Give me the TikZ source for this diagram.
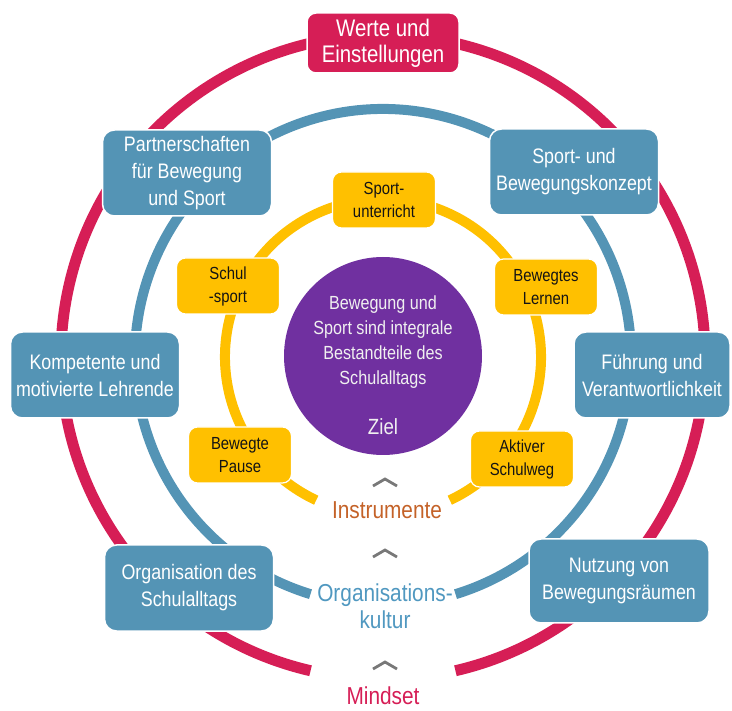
\documentclass[tikz,border=0pt]{standalone}
\usepackage{fontspec}
\setmainfont[FakeStretch=0.85]{Liberation Sans}
\definecolor{ringred}{RGB}{214,30,86}
\definecolor{ringblue}{RGB}{84,148,181}
\definecolor{ringyellow}{RGB}{255,192,0}
\definecolor{goalpurple}{RGB}{112,48,160}
\definecolor{instrorange}{RGB}{196,98,40}
\definecolor{orgablue}{RGB}{80,152,192}
\definecolor{chevgray}{RGB}{120,120,120}

\begin{document}
\begin{tikzpicture}
    [x=1pt,y=-1pt,every node/.style={align=center, inner sep=0pt},
     redbox/.style={draw=white, line width=1.5pt, fill=ringred, rounded corners=9pt, text=white,
       minimum width=152pt, minimum height=60pt, font=\fontsize{24}{26}\selectfont},
     bluebox/.style={draw=white, line width=1.5pt, fill=ringblue, rounded corners=12pt, text=white,
       minimum width=169pt, minimum height=86pt, font=\fontsize{21}{27}\selectfont},
     toolbox/.style={draw=white, line width=1.2pt, fill=ringyellow, rounded corners=9pt, text=black!92,
       minimum width=103pt, minimum height=56pt, font=\fontsize{17.5}{23}\selectfont},
     layer/.style={font=\fontsize{24.5}{27}\selectfont},
     chevron/.style={draw=chevgray, line width=2.8pt}]
  \useasboundingbox (0,0) rectangle (732,711);
  \coordinate (c) at (383,357);

  % rings
  \draw[ringred, line width=11pt] (c) ++(103:322) arc[start angle=103, end angle=437, radius=322];
  \draw[ringblue, line width=10pt] (c) ++(107:248) arc[start angle=107, end angle=433, radius=248];
  \draw[ringyellow, line width=10pt] (c) ++(115:158) arc[start angle=115, end angle=425, radius=158];

  % goal
  \node[circle, fill=goalpurple, minimum size=198pt] (goal) at (383,356) {};
  \node[text=white!94!black, font=\fontsize{19}{25}\selectfont] (bestand) at (383,342)
    {Bewegung und\\Sport sind integrale\\Bestandteile des\\Schulalltags};
  \node[text=white!94!black, font=\fontsize{22}{24}\selectfont] (ziel) at (383,427) {Ziel};

  % mindset
  \node[redbox] (werte) at (383,43) {Werte und\\Einstellungen};

  % organisationskultur
  \node[bluebox] (partner) at (187,173) {Partnerschaften\\für Bewegung\\und Sport};
  \node[bluebox] (konzept) at (574,172) {Sport- und\\Bewegungskonzept};
  \node[bluebox] (lehrende) at (95,375) {Kompetente und\\motivierte Lehrende};
  \node[bluebox, minimum width=156pt] (fuehrung) at (652,375) {Führung und\\Verantwortlichkeit};
  \node[bluebox] (orga) at (189,588) {Organisation des\\Schulalltags};
  \node[bluebox, minimum width=180pt, minimum height=84pt] (raeume) at (619,581) {Nutzung von\\Bewegungsräumen};

  % instrumente
  \node[toolbox] (sportu) at (384,200) {Sport-\\unterricht};
  \node[toolbox] (schulsp) at (228,286) {Schul\\-sport};
  \node[toolbox] (lernen) at (546,287) {Bewegtes\\Lernen};
  \node[toolbox] (pause) at (240,455) {Bewegte\\Pause};
  \node[toolbox] (schulweg) at (522,459) {Aktiver\\Schulweg};

  % layer names
  \node[layer, text=instrorange] (instr) at (387,510) {Instrumente};
  \node[layer, text=orgablue] (orgkult) at (385,606) {Organisations-\\kultur};
  \node[layer, text=ringred] (mindset) at (383,696) {Mindset};

  \foreach \y in {482,553,665}
    \draw[chevron] (373,\y+4) -- (385,\y-3) -- (397,\y+4);
\end{tikzpicture}
\end{document}
